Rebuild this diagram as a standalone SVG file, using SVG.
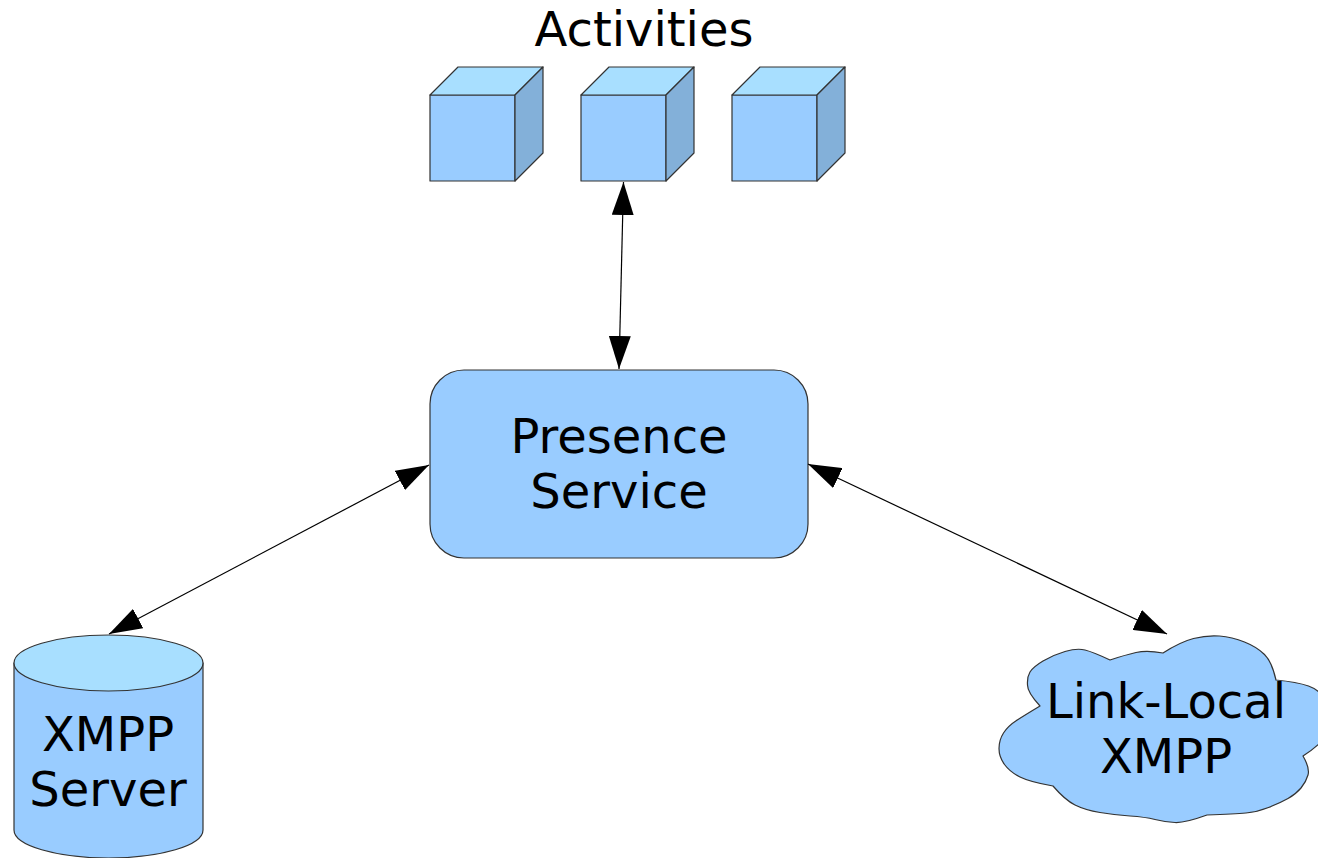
<svg xmlns="http://www.w3.org/2000/svg" width="1318" height="858" viewBox="0 0 1318 858">
<style>
.lbl{font-family:"DejaVu Sans","Liberation Sans",sans-serif;font-size:48px;fill:#000;text-anchor:middle}
.face{fill:#99ccff;stroke:#333;stroke-width:1.2;stroke-linejoin:round}
.top{fill:#a8dfff;stroke:#333;stroke-width:1.2;stroke-linejoin:round}
.side{fill:#83b0d9;stroke:#333;stroke-width:1.2;stroke-linejoin:round}
.conn{stroke:#000;stroke-width:1.2;fill:none;marker-start:url(#ah);marker-end:url(#ah)}
</style>
<defs>
<marker id="ah" viewBox="0 0 33 22" refX="33" refY="11" markerWidth="33" markerHeight="22" markerUnits="userSpaceOnUse" orient="auto-start-reverse">
<path d="M0,0 L33,11 L0,22 z" fill="#000"/>
</marker>
</defs>
<rect width="1318" height="858" fill="#fff"/>
<g id="activities">
<text class="lbl" x="644" y="46">Activities</text>
<g id="cube1">
<rect class="face" x="430" y="95" width="85" height="86"/>
<polygon class="top" points="430,95 458,67 543,67 515,95"/>
<polygon class="side" points="515,95 543,67 543,153 515,181"/>
</g>
<g id="cube2">
<rect class="face" x="581" y="95" width="85" height="86"/>
<polygon class="top" points="581,95 609,67 694,67 666,95"/>
<polygon class="side" points="666,95 694,67 694,153 666,181"/>
</g>
<g id="cube3">
<rect class="face" x="732" y="95" width="85" height="86"/>
<polygon class="top" points="732,95 760,67 845,67 817,95"/>
<polygon class="side" points="817,95 845,67 845,153 817,181"/>
</g>
</g>
<g id="presence">
<rect class="face" x="430" y="370" width="378" height="188" rx="34" ry="34"/>
<text class="lbl" x="619" y="453">Presence</text>
<text class="lbl" x="619" y="508">Service</text>
</g>
<g id="xmpp-server">
<path class="face" d="M14,663 L14,830 A94.5,28 0 0 0 203,830 L203,663 Z"/>
<ellipse class="top" cx="108.5" cy="663" rx="94.5" ry="28"/>
<text class="lbl" x="108" y="751">XMPP</text>
<text class="lbl" x="108" y="806">Server</text>
</g>
<g id="link-local">
<path class="face" d="M1040,706 Q1027,692 1027.5,684.5 Q1027,677 1030,672 Q1033,667 1043,661 Q1053,655 1065,651.5 Q1077,648 1085,650 Q1093,652 1110,660 Q1125,655 1136,652.5 Q1147,650 1163,653 Q1180,642 1193.5,638.5 Q1207,635 1219.5,636 Q1232,637 1244.5,642 Q1257,647 1264.5,654.5 Q1272,662 1276,680 Q1297,682 1308.5,686 Q1320,690 1327.5,702.5 Q1335,715 1330,728.5 Q1325,742 1303,756 Q1310,768 1308,775 Q1306,782 1301,788 Q1296,794 1288,798.5 Q1280,803 1268.5,807.5 Q1257,812 1246,813 Q1235,814 1207,815 Q1185,823 1175,822.5 Q1165,822 1155,819.5 Q1145,817 1130,816 Q1115,815 1100,812.5 Q1085,810 1075,805 Q1065,800 1053,786 Q1030,782 1020,777 Q1010,772 1004.5,764.5 Q999,757 999,748.5 Q999,740 1003.5,733 Q1008,726 1016.5,720.5 Q1025,715 1040,706 Z"/>
<text class="lbl" x="1166" y="718">Link-Local</text>
<text class="lbl" x="1166" y="773">XMPP</text>
</g>
<g id="connectors">
<line class="conn" x1="623.5" y1="182" x2="619" y2="369"/>
<line class="conn" x1="429" y1="465" x2="109" y2="634"/>
<line class="conn" x1="808" y1="464" x2="1167" y2="634"/>
</g>
</svg>
